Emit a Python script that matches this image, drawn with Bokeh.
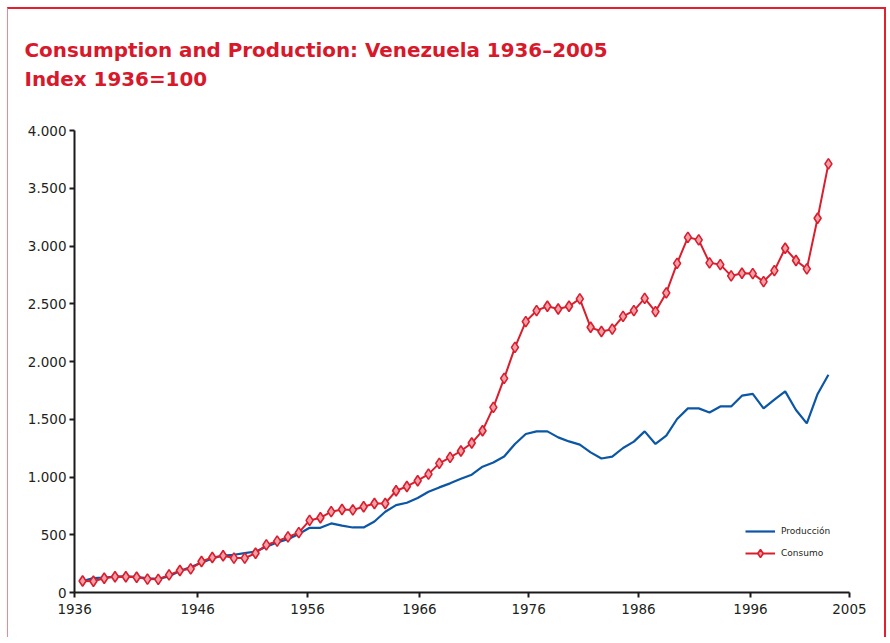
from bokeh.plotting import figure
from bokeh.models import Range1d, FixedTicker, Title
from bokeh.embed import file_html
from bokeh.resources import INLINE

years = list(range(1936, 2006))

produccion = [100, 125, 130, 138, 140, 136, 122, 118, 140, 185,
              220, 258, 295, 320, 327, 341, 355, 396, 433, 462,
              506, 560, 560, 598, 579, 563, 563, 615, 699, 757,
              777, 818, 872, 910, 945, 985, 1020, 1089, 1126, 1178,
              1286, 1372, 1395, 1395, 1343, 1308, 1280, 1213, 1160, 1176,
              1251, 1306, 1395, 1286, 1358, 1502, 1594, 1594, 1559, 1611,
              1611, 1704, 1719, 1594, 1669, 1741, 1580, 1464, 1719, 1886]

consumo = [100, 97, 123, 136, 136, 132, 116, 114, 153, 190,
           205, 268, 303, 318, 298, 298, 340, 412, 445, 482,
           518, 624, 647, 700, 719, 715, 742, 771, 771, 881,
           918, 968, 1025, 1118, 1170, 1225, 1294, 1401, 1603, 1854,
           2122, 2345, 2440, 2478, 2455, 2478, 2542, 2296, 2260, 2280,
           2391, 2440, 2547, 2432, 2594, 2850, 3075, 3053, 2854, 2839,
           2741, 2764, 2761, 2692, 2787, 2980, 2874, 2802, 3240, 3711]

y_ticks = [0, 500, 1000, 1500, 2000, 2500, 3000, 3500, 4000]
y_tick_labels = ["0", "500", "1.000", "1.500", "2.000", "2.500", "3.000", "3.500", "4.000"]

x_tick_labels = ["1936", "1946", "1956", "1966", "1976", "1986", "1996", "2005"]
# axis tick positions as drawn in the source (its axis is not evenly spaced)
x_tick_pos = [1935.26, 1946.64, 1956.81, 1967.17, 1977.26, 1987.43, 1997.79, 2006.94]

title_line1 = "Consumption and Production: Venezuela 1936\u20132005"
title_line2 = "Index 1936=100"

RED = "#d91e2e"
TITLE_RED = "#d8182b"
BLUE = "#0b56a5"
PINK = "#f2a0a8"
AXIS = "#1a1a1a"

p = figure(width=879, height=630, output_backend="svg", toolbar_location=None,
           title=None,
           x_range=Range1d(1935.25, 2006.95), y_range=Range1d(0, 4000),
           min_border_left=66, min_border_right=38, min_border_top=121,
           min_border_bottom=47)

p.margin = (7, 0, 0, 7)
p.styles = {"border-top": "2px solid #e2202f",
            "border-left": "1px solid #f4858e",
            "border-right": "2px solid #e2202f"}

TFONT = dict(text_font="DejaVu Sans", text_font_size="19.9px",
             text_font_style="bold", text_color=TITLE_RED)

# stacked from the plot frame upwards: spacer, line 2, line 1
spacer = Title(text=" ", align="left", standoff=37, text_font_size="1px")
t2 = Title(text=title_line2, align="left", offset=-50, standoff=0, **TFONT)
t1 = Title(text=title_line1, align="left", offset=-50, standoff=6.4, **TFONT)
p.add_layout(spacer, "above")
p.add_layout(t2, "above")
p.add_layout(t1, "above")

p.line(years, produccion, color=BLUE, line_width=2.2, legend_label="Producción")
p.line(years, consumo, color=RED, line_width=2, legend_label="Consumo")
p.scatter(years, consumo, marker="diamond", size=10.5, line_color=RED,
          fill_color=PINK, line_width=1.6, legend_label="Consumo")

p.xgrid.visible = False
p.ygrid.visible = False
p.outline_line_color = None
p.background_fill_color = "white"
p.border_fill_color = "white"

for ax in (p.xaxis[0], p.yaxis[0]):
    ax.axis_line_width = 2
    ax.axis_line_color = AXIS
    ax.major_tick_line_width = 2
    ax.major_tick_line_color = AXIS
    ax.major_tick_out = 5
    ax.major_tick_in = 0
    ax.minor_tick_line_color = None
    ax.major_label_text_font = "DejaVu Sans"
    ax.major_label_text_font_size = "13.5px"
    ax.major_label_text_color = "#231f20"

p.yaxis.ticker = FixedTicker(ticks=y_ticks)
p.yaxis.major_label_overrides = {t: l for t, l in zip(y_ticks, y_tick_labels)}
p.yaxis.major_label_standoff = 3

p.xaxis.ticker = FixedTicker(ticks=x_tick_pos)
p.xaxis.major_label_overrides = {t: l for t, l in zip(x_tick_pos, x_tick_labels)}
p.xaxis.major_label_standoff = 6

lg = p.legend[0]
lg.location = (671, 29)
lg.margin = 0
lg.padding = 0
lg.spacing = 2
lg.glyph_width = 30
lg.glyph_height = 20
lg.label_height = 20
lg.label_standoff = 6
lg.label_text_font = "DejaVu Sans"
lg.label_text_font_size = "9px"
lg.label_text_color = "#231f20"
lg.border_line_alpha = 0
lg.background_fill_alpha = 0

open("out.html", "w").write(file_html(p, INLINE))
